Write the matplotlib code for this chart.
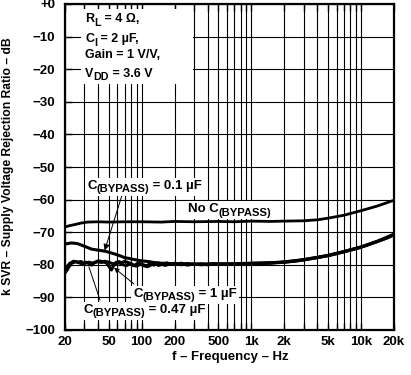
import matplotlib
matplotlib.use("Agg")
import matplotlib.pyplot as plt
from matplotlib.patches import Rectangle
from matplotlib.ticker import FixedLocator, NullFormatter

plt.rcParams.update({
    "font.family": ["Liberation Sans", "DejaVu Sans"],
    "font.weight": "bold",
})

# ── data ─────────────────────────────────────────────────────────────
f_none = [20, 22, 25, 28, 32, 40, 50, 70, 100, 150, 200, 300, 500, 700, 1000,
          1500, 2000, 3000, 4000, 5000, 7000, 10000, 14000, 20000]
v_none = [-68.4, -68.0, -67.6, -67.2, -66.9, -66.8, -66.9, -66.8, -66.8, -66.9,
          -66.7, -66.8, -66.7, -66.8, -66.6, -66.7, -66.6, -66.5, -66.2, -65.7,
          -64.8, -63.4, -62.0, -60.2]

f_01 = [20, 23, 26, 30, 35, 40, 46, 52, 57, 63, 70, 78, 86, 100, 115, 130, 150,
        200, 300, 500, 1000, 2000, 3000, 5000, 7000, 10000, 14000, 20000]
v_01 = [-73.6, -73.3, -73.5, -74.3, -75.2, -75.5, -75.8, -76.3, -76.7, -77.2,
        -77.8, -78.1, -78.4, -78.8, -79.0, -79.3, -79.5, -79.7, -79.8, -79.7,
        -79.6, -79.2, -78.5, -77.2, -76.0, -74.6, -72.9, -70.8]

f_047 = [20, 21, 22, 23, 24, 25, 27, 29, 31, 33, 35, 37, 40, 43, 46, 50, 54, 58,
         62, 67, 72, 78, 84, 90, 97, 105, 113, 122, 132, 143, 155, 170, 185, 200,
         230, 260, 300, 350, 400, 450, 500, 600, 700, 800, 1000, 1200, 1500, 2000,
         2500, 3000, 4000, 5000, 6000, 7000, 8500, 10000, 12000, 14000, 17000, 20000]
v_047 = [-82.5, -81.5, -80.3, -79.5, -79.3, -79.0, -79.4, -79.8, -79.2, -79.6,
         -80.1, -79.4, -79.0, -79.3, -78.9, -79.2, -79.6, -79.8, -79.4, -79.9,
         -80.3, -79.7, -80.2, -80.4, -79.8, -80.3, -80.6, -80.0, -79.6, -80.2,
         -79.8, -79.4, -79.9, -79.5, -80.0, -79.6, -79.9, -79.7, -80.0, -79.6,
         -79.9, -79.8, -79.9, -79.7, -79.6, -79.6, -79.5, -79.2, -78.9, -78.5,
         -77.8, -77.2, -76.6, -76.0, -75.3, -74.6, -73.7, -72.9, -71.9, -70.8]

f_1 = [20, 21, 22, 24, 26, 28, 30, 33, 36, 40, 44, 48, 51, 53, 55, 58, 62, 66,
       70, 75, 80, 86, 92, 100, 110, 120, 130, 140, 150, 165, 180, 200, 230, 260,
       300, 350, 400, 500, 600, 800, 1000, 1500, 2000, 3000, 5000, 7000, 10000,
       14000, 20000]
v_1 = [-81.8, -80.6, -79.6, -78.9, -79.2, -79.0, -79.6, -79.2, -79.5, -78.8,
       -79.0, -79.5, -80.8, -81.6, -80.5, -79.3, -79.0, -79.4, -78.9, -79.3,
       -79.6, -80.2, -79.5, -79.8, -80.3, -79.7, -80.1, -79.4, -79.8, -80.2,
       -79.6, -79.9, -79.5, -80.1, -79.7, -80.0, -79.8, -79.7, -79.9, -79.6,
       -79.5, -79.4, -79.1, -78.4, -77.1, -75.9, -74.5, -72.8, -70.6]

x_ticks = [20, 50, 100, 200, 500, 1000, 2000, 5000, 10000, 20000]
x_labels = ["20", "50", "100", "200", "500", "1k", "2k", "5k", "10k", "20k"]
y_ticks = [0, -10, -20, -30, -40, -50, -60, -70, -80, -90, -100]
y_labels = ["+0", "−10", "−20", "−30", "−40", "−50", "−60", "−70", "−80",
            "−90", "−100"]
x_minor = [m * d for d in (10, 100, 1000, 10000) for m in range(1, 10)
           if 20 <= m * d <= 20000]

W, H = 411, 375
fig = plt.figure(figsize=(W / 100, H / 100), dpi=100)
L, R, T, B = 65, 394, 4, 330
ax = fig.add_axes([L / W, 1 - B / H, (R - L) / W, (B - T) / H])
renderer = fig.canvas.get_renderer()


def axfrac(x, y):
    return (x - L) / (R - L), 1 - (y - T) / (B - T)


def rich(x, y, parts, size=9.5, box=False):
    """Write text pieces left to right from pixel (x, baseline y); the
    pieces flagged True are drawn as lowered, smaller subscripts."""
    x_start = x
    for s, sub in parts:
        fs = size * 0.85 if sub else size
        dy = 3.5 if sub else 0
        t = fig.text(x / W, 1 - (y + dy) / H, s, fontsize=fs, ha="left",
                     va="baseline", zorder=6)
        x += t.get_window_extent(renderer).width
    if box:
        fig.patches.append(Rectangle(((x_start - 2) / W, 1 - (y + 7) / H),
                                     (x - x_start + 4) / W, 18 / H,
                                     transform=fig.transFigure,
                                     facecolor="white", edgecolor="none",
                                     zorder=5))


ax.set_xscale("log")
ax.set_xlim(20, 20000)
ax.set_ylim(-100, 0)

ax.xaxis.set_major_locator(FixedLocator(x_ticks))
ax.xaxis.set_minor_locator(FixedLocator(x_minor))
ax.xaxis.set_minor_formatter(NullFormatter())
ax.set_xticklabels(x_labels)
ax.set_yticks(y_ticks)
ax.set_yticklabels(y_labels)
ax.tick_params(axis="both", which="both", direction="in", top=True,
               length=5, width=1, colors="black", labelsize=9.5)
ax.tick_params(axis="x", which="major", pad=4)
ax.tick_params(axis="y", which="major", pad=7)

ax.grid(True, which="both", color="black", linewidth=0.8)
ax.set_axisbelow(True)
for s in ax.spines.values():
    s.set_linewidth(1.6)
    s.set_zorder(5)

# white box behind the test conditions
x0, y0 = axfrac(81, 9)
x1, y1 = axfrac(193, 84)
ax.add_patch(Rectangle((x0, y1), x1 - x0, y0 - y1, transform=ax.transAxes,
                       facecolor="white", edgecolor="none", zorder=1.5))
rich(85, 22, [("R", False), ("L", True), (" = 4 Ω,", False)], size=9)
rich(85, 42, [("C", False), ("I", True), (" = 2 µF,", False)], size=9)
rich(85, 58.5, [("Gain = 1 V/V,", False)], size=9)
rich(85, 77, [("V", False), ("DD", True), (" = 3.6 V", False)], size=9)

# curves
ax.plot(f_none, v_none, color="black", lw=2.0, zorder=3)
ax.plot(f_01, v_01, color="black", lw=2.2, zorder=3)
ax.plot(f_047, v_047, color="black", lw=2.2, zorder=3)
ax.plot(f_1, v_1, color="black", lw=2.2, zorder=3)

# labels and pointers
rich(87, 189, [("C", False), ("(BYPASS)", True), (" = 0.1 µF", False)], box=True)
rich(188, 212, [("No C", False), ("(BYPASS)", True)], box=True)
rich(133, 297, [("C", False), ("(BYPASS)", True), (" = 1 µF", False)], box=True)
rich(83, 313, [("C", False), ("(BYPASS)", True), (" = 0.47 µF", False)], box=True)

ax.annotate("", xy=(46, -75.6), xytext=axfrac(123, 192),
            textcoords="axes fraction",
            arrowprops=dict(arrowstyle="-|>", color="black", lw=0.7,
                            mutation_scale=9, shrinkA=0, shrinkB=0))
ax.annotate("", xy=(56, -80.9), xytext=axfrac(134, 284),
            textcoords="axes fraction",
            arrowprops=dict(arrowstyle="-|>", color="black", lw=0.7,
                            mutation_scale=7, shrinkA=0, shrinkB=0))
ax.annotate("", xy=(33, -80.6), xytext=axfrac(100, 300),
            textcoords="axes fraction",
            arrowprops=dict(arrowstyle="-", color="black", lw=0.7,
                            shrinkA=0, shrinkB=0))

fig.text(230 / W, 1 - 357 / H, "f – Frequency – Hz", fontsize=9.5,
         ha="center", va="center")
fig.text(8 / W, 1 - 166 / H, "k SVR – Supply Voltage Rejection Ratio – dB",
         fontsize=8.7, rotation=90, ha="center", va="center")

fig.savefig("out.png", dpi=100, facecolor="white")
